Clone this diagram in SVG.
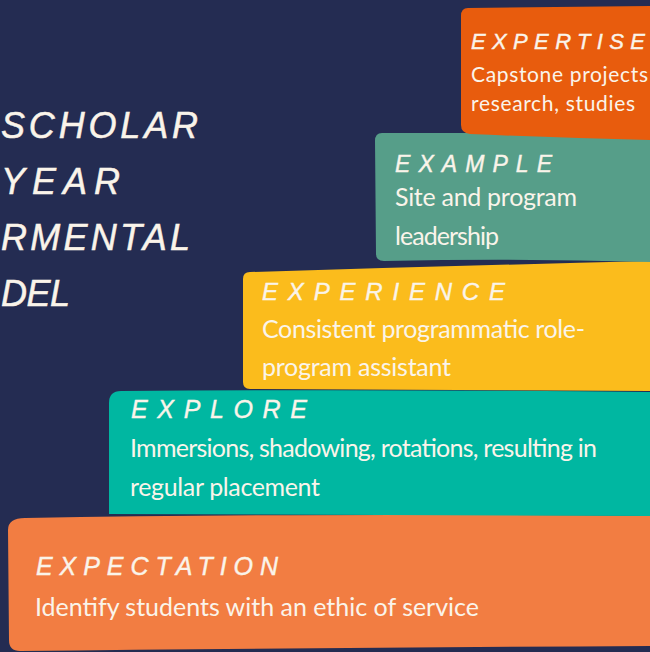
<svg xmlns="http://www.w3.org/2000/svg" width="650" height="652" viewBox="0 0 650 652">
<style>
.h{font-family:"Liberation Sans",Arial,sans-serif;font-style:italic;fill:#FAF4EA;stroke:#FAF4EA;stroke-width:0.4;}
.b{font-family:Lato,"Noto Sans",sans-serif;fill:#FAF4EA;}
.t{font-family:"Liberation Sans",Arial,sans-serif;font-style:italic;fill:#FAF4EA;stroke:#FAF4EA;stroke-width:0.5;font-size:36px;}
</style>
<rect width="650" height="652" fill="#242C52"/>
<g id="title">
<text class="t" x="1" y="138" textLength="197" lengthAdjust="spacing">SCHOLAR</text>
<text class="t" x="1" y="194" textLength="119" lengthAdjust="spacing">YEAR</text>
<text class="t" x="1" y="250" textLength="189" lengthAdjust="spacing">RMENTAL</text>
<text class="t" x="1" y="306" textLength="69" lengthAdjust="spacing">DEL</text>
</g>
<g id="expectation">
<path d="M25,518 Q300,513 650,516 L650,646 Q300,648 20,651 Q9,651 9,640 L8,530 Q8,518 25,518 Z" fill="#F27D42"/>
<text class="h" x="36" y="575" font-size="25" textLength="242" lengthAdjust="spacing">EXPECTATION</text>
<text class="b" x="35" y="616" font-size="25" textLength="444" lengthAdjust="spacing">Identify students with an ethic of service</text>
</g>
<g id="explore">
<path d="M121,391 Q380,389 650,392 L650,516 L109,514 L109,403 Q109,391 121,391 Z" fill="#00B7A1"/>
<text class="h" x="131" y="418" font-size="25" textLength="176" lengthAdjust="spacing">EXPLORE</text>
<text class="b" x="130" y="457" font-size="25" textLength="467" lengthAdjust="spacing">Immersions, shadowing, rotations, resulting in</text>
<text class="b" x="130" y="496" font-size="25" textLength="190" lengthAdjust="spacing">regular placement</text>
</g>
<g id="experience">
<path d="M250,272 Q450,266 650,261 L650,391 L250,389 Q243,389 243,382 L243,279 Q243,272 250,272 Z" fill="#FBBC1C"/>
<text class="h" x="262" y="300" font-size="24" textLength="243" lengthAdjust="spacing">EXPERIENCE</text>
<text class="b" x="262" y="338" font-size="25" textLength="323" lengthAdjust="spacing">Consistent programmatic role-</text>
<text class="b" x="262" y="376" font-size="25" textLength="189" lengthAdjust="spacing">program assistant</text>
</g>
<g id="example">
<path d="M382,133 L650,133 L650,262 Q520,258 384,261 Q376,261 376,254 L375,141 Q375,133 382,133 Z" fill="#569E89"/>
<text class="h" x="395" y="172" font-size="23" textLength="157" lengthAdjust="spacing">EXAMPLE</text>
<text class="b" x="395" y="206" font-size="25" textLength="182" lengthAdjust="spacing">Site and program</text>
<text class="b" x="395" y="245" font-size="25" textLength="104" lengthAdjust="spacing">leadership</text>
</g>
<g id="expertise">
<path d="M468,8 L650,6 L650,140 Q560,138 470,134 Q461,133 461,125 L461,16 Q461,8 468,8 Z" fill="#E85C0D"/>
<text class="h" x="471" y="49" font-size="22" textLength="174" lengthAdjust="spacing">EXPERTISE</text>
<text class="b" x="471" y="82" font-size="21" textLength="177" lengthAdjust="spacing">Capstone projects</text>
<text class="b" x="471" y="111" font-size="21" textLength="164" lengthAdjust="spacing">research, studies</text>
</g>
<g id="connectors"/>
</svg>
